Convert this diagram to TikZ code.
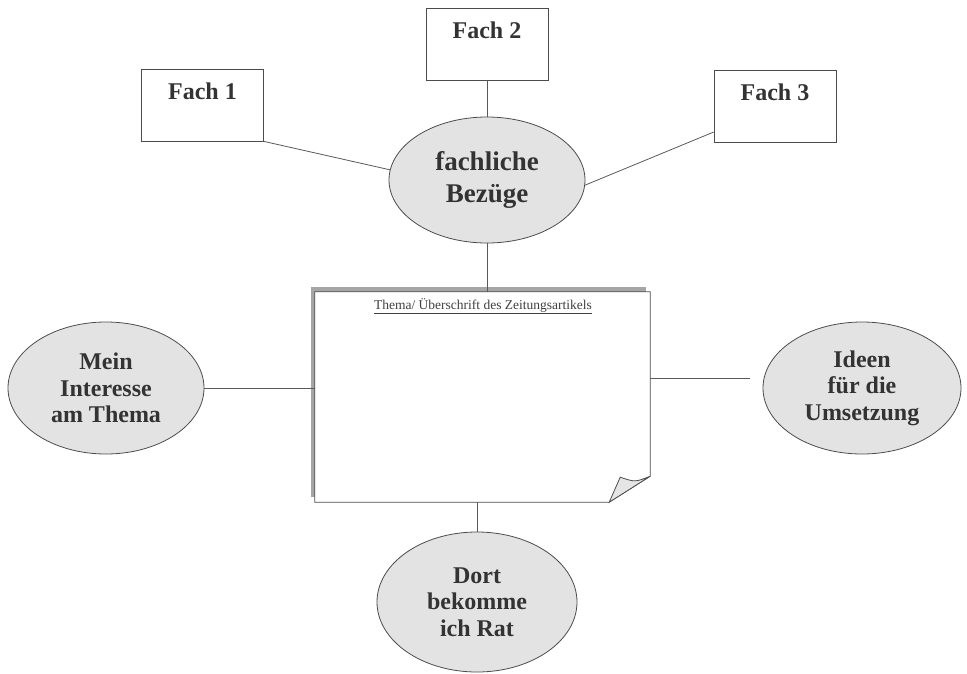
\documentclass[tikz,border=0pt]{standalone}
\usepackage{fontspec}
\setmainfont{Liberation Serif}
\usetikzlibrary{shapes.geometric}

\begin{document}
\begin{tikzpicture}[x=1pt,y=-1pt,
    linie/.style={draw=black!65, line width=0.8pt},
    fachbox/.style={draw=black!70, line width=0.8pt, fill=white, inner sep=0pt,
        minimum width=122pt, text height=30pt, text depth=42pt,
        text=black!80, font=\bfseries\fontsize{24}{28}\selectfont},
    blase/.style={ellipse, draw=black!70, line width=0.8pt, fill=black!11,
        inner sep=0pt, align=center, text=black!80,
        font=\bfseries\fontsize{24}{26.5}\selectfont}]

        % Fix the page size
        \useasboundingbox (0,0) rectangle (967,673);

        % Draw the subject boxes
        \node[fachbox] (fach1) at (202.5,105) {Fach 1};
        \node[fachbox] (fach2) at (487,44) {Fach 2};
        \node[fachbox] (fach3) at (775,106) {Fach 3};

        % Draw the ellipses
        \node[blase, minimum width=196pt, minimum height=126pt,
            font=\bfseries\fontsize{27}{32}\selectfont] (bez) at (487,180) {fachliche\\Bez\"uge};
        \node[blase, minimum width=196pt, minimum height=132pt] (mein) at (106,388) {Mein\\Interesse\\am Thema};
        \node[blase, minimum width=198pt, minimum height=132pt] (ideen) at (862,388) {Ideen\\f\"ur die\\Umsetzung};
        \node[blase, minimum width=200pt, minimum height=140pt] (dort) at (477,602) {Dort\\bekomme\\ich Rat};

        % Draw the article sheet with its shadow on the left and top
        \node[minimum width=335pt, minimum height=210pt, inner sep=0pt] (artikel) at (482.5,397) {};
        \fill[black!35] ([shift={(-4,-5)}]artikel.north west) rectangle ([shift={(0,-5)}]artikel.south west);
        \fill[black!35] ([shift={(-4,-5)}]artikel.north west) rectangle ([shift={(-4,0)}]artikel.north east);
        \filldraw[fill=white, draw=black!70, line width=0.8pt] (artikel.north west) -- (artikel.north east)
            -- ([shift={(0,-26)}]artikel.south east) -- ([shift={(-41,0)}]artikel.south east)
            -- (artikel.south west) -- cycle;

        % Draw the curled corner
        \filldraw[fill=black!10, draw=black!70, line width=0.8pt] ([shift={(-41,0)}]artikel.south east)
            -- ([shift={(-30,-25)}]artikel.south east)
            .. controls ([shift={(-15,-20)}]artikel.south east) .. ([shift={(0,-26)}]artikel.south east) -- cycle;

        % Heading of the sheet
        \node[text=black!75, font=\fontsize{13.5}{16}\selectfont] (titel) at (483,306)
            {\underline{Thema/ \"Uberschrift des Zeitungsartikels}};

        % Draw the connecting lines
        \coordinate (ende) at (750,378);
        \draw[linie] (fach2.south) -- (bez.north);
        \draw[linie] (fach1.south east) -- (bez.174);
        \draw[linie] (fach3.203) -- (bez.357);
        \draw[linie] (bez.south) -- (bez.south |- artikel.north);
        \draw[linie] (mein.east) -- (mein.east -| artikel.west);
        \draw[linie] (ende -| artikel.east) -- (ende);
        \draw[linie] (dort.north |- artikel.south) -- (dort.north);
\end{tikzpicture}
\end{document}
